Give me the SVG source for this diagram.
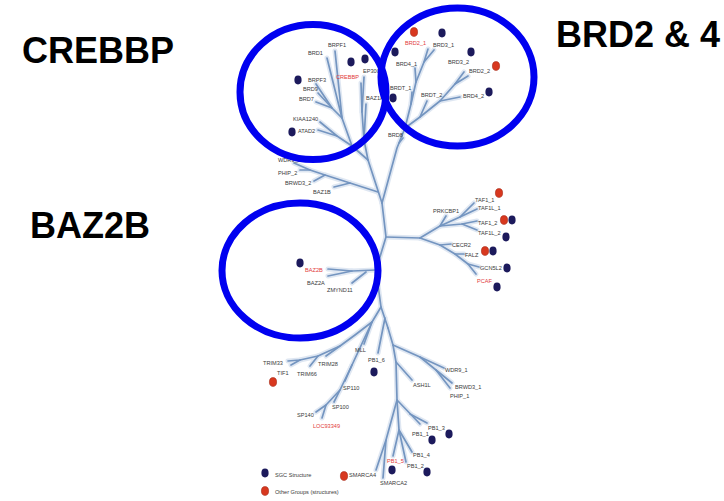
<svg xmlns="http://www.w3.org/2000/svg" xmlns:xlink="http://www.w3.org/1999/xlink" width="724" height="501" viewBox="0 0 724 501">
<style>
.halo{fill:none;stroke:#b9cbe4;stroke-width:5;stroke-linecap:round;stroke-linejoin:round;opacity:.45}
.line{fill:none;stroke:#7495c0;stroke-width:1.7;stroke-linecap:round;stroke-linejoin:round}
.lb{font-family:"Liberation Sans",Arial,sans-serif;font-size:5.6px;fill:#3a3a3a}
.lr{font-family:"Liberation Sans",Arial,sans-serif;font-size:5.6px;fill:#e23a3a}
.sgc{fill:#1c1a5c}
.oth{fill:#d8381f;stroke:#a52a18;stroke-width:.6}
.ring{fill:none;stroke:#0000f0;stroke-width:7}
.tt{font-family:"Liberation Sans",Arial,sans-serif;font-size:36px;font-weight:bold;fill:#000}
</style>
<defs>
<g id="tree">
<path d="M382,203 L386,237 L376,270 L381,307 L388,328"/>
<path d="M382,203 L368,160"/>
<path d="M382,203 L397,148 L405,128"/>
<path d="M368,160 L352,146"/>
<path d="M368,160 L364,140 L366,104"/>
<path d="M364,140 L362,112 L361,83"/>
<path d="M362,112 L364,77"/>
<path d="M352,146 L337,136 L320,122"/>
<path d="M337,136 L318,130"/>
<path d="M352,146 L342,118 L327,58"/>
<path d="M342,118 L335,51"/>
<path d="M342,118 L332,108 L316,84"/>
<path d="M332,108 L318,93"/>
<path d="M332,108 L316,102"/>
<path d="M378,192 L350,183 L334,187"/>
<path d="M350,183 L325,175 L314,181"/>
<path d="M325,175 L310,170 L300,170"/>
<path d="M310,170 L294,163"/>
<path d="M399,143 L403,138"/>
<path d="M405,128 L411,104 L412,92"/>
<path d="M411,104 L416,82 L415,68"/>
<path d="M416,82 L424,62 L428,49"/>
<path d="M424,62 L434,50"/>
<path d="M405,128 L420,117 L427,101"/>
<path d="M420,117 L440,101 L460,97"/>
<path d="M440,101 L455,84 L464,72"/>
<path d="M455,84 L468,76"/>
<path d="M386,237 L420,238"/>
<path d="M420,238 L440,226 L446,216"/>
<path d="M440,226 L460,217 L474,203"/>
<path d="M460,217 L477,209"/>
<path d="M440,226 L462,224 L477,221"/>
<path d="M462,224 L477,230"/>
<path d="M420,238 L440,245 L451,244"/>
<path d="M440,245 L455,254 L464,254"/>
<path d="M455,254 L468,264 L479,267"/>
<path d="M468,264 L476,274"/>
<path d="M376,270 L352,271 L328,269"/>
<path d="M352,271 L328,276"/>
<path d="M366,272 L352,283"/>
<path d="M381,307 L372,322 L364,344"/>
<path d="M372,322 L355,335 L340,346 L326,356"/>
<path d="M340,346 L318,356 L310,366"/>
<path d="M318,356 L300,360 L288,361"/>
<path d="M300,360 L291,365"/>
<path d="M372,322 L352,365 L345,381"/>
<path d="M352,365 L340,390 L334,402"/>
<path d="M340,390 L326,405 L316,412"/>
<path d="M326,405 L322,418"/>
<path d="M385,318 L378,353"/>
<path d="M388,328 L393,345"/>
<path d="M393,345 L420,357 L444,368"/>
<path d="M420,357 L452,383"/>
<path d="M436,370 L450,388"/>
<path d="M393,345 L396,362 L412,380"/>
<path d="M396,362 L397,400 L420,424"/>
<path d="M410,414 L427,423"/>
<path d="M397,400 L399,430 L412,452"/>
<path d="M399,430 L406,462"/>
<path d="M399,430 L393,456"/>
<path d="M397,400 L386,440 L376,470"/>
<path d="M386,440 L383,478"/>
</g>
</defs>
<g id="connectors">
<use xlink:href="#tree" class="halo"/>
<use xlink:href="#tree" class="line"/>
</g>
<g id="nodes">
<g id="n-brpf1"><text class="lb" x="328" y="47">BRPF1</text></g>
<g id="n-brd1"><text class="lb" x="308" y="55">BRD1</text></g>
<g id="n-crebbp"><ellipse class="sgc" cx="351" cy="62" rx="3.6" ry="4.4"/><text class="lr" x="336" y="79">CREBBP</text></g>
<g id="n-ep300"><ellipse class="sgc" cx="365" cy="59" rx="3.6" ry="4.4"/><text class="lb" x="363" y="73">EP300</text></g>
<g id="n-brpf3"><ellipse class="sgc" cx="298" cy="80" rx="3.6" ry="4.4"/><text class="lb" x="308" y="82">BRPF3</text></g>
<g id="n-brd9"><text class="lb" x="303" y="91">BRD9</text></g>
<g id="n-brd7"><text class="lb" x="299" y="101">BRD7</text></g>
<g id="n-baz1a"><text class="lb" x="366" y="100">BAZ1A</text></g>
<g id="n-kiaa1240"><text class="lb" x="293" y="121">KIAA1240</text></g>
<g id="n-atad2"><ellipse class="sgc" cx="292" cy="132" rx="3.6" ry="4.4"/><text class="lb" x="298" y="133">ATAD2</text></g>
<g id="n-brd8"><text class="lb" x="388" y="137">BRD8</text></g>
<g id="n-brd2-1"><ellipse class="oth" cx="414" cy="32" rx="3.6" ry="4.4"/><text class="lr" x="405" y="45">BRD2_1</text></g>
<g id="n-brd3-1"><ellipse class="sgc" cx="442" cy="33" rx="3.6" ry="4.4"/><text class="lb" x="433" y="47">BRD3_1</text></g>
<g id="n-brd4-1"><ellipse class="sgc" cx="395" cy="52" rx="3.6" ry="4.4"/><text class="lb" x="396" y="66">BRD4_1</text></g>
<g id="n-brd3-2"><ellipse class="sgc" cx="471" cy="52" rx="3.6" ry="4.4"/><text class="lb" x="448" y="64">BRD3_2</text></g>
<g id="n-brd2-2"><ellipse class="oth" cx="496" cy="66" rx="3.6" ry="4.4"/><text class="lb" x="469" y="73">BRD2_2</text></g>
<g id="n-brdt-1"><ellipse class="sgc" cx="393" cy="98" rx="3.6" ry="4.4"/><text class="lb" x="390" y="90">BRDT_1</text></g>
<g id="n-brdt-2"><text class="lb" x="421" y="97">BRDT_2</text></g>
<g id="n-brd4-2"><ellipse class="sgc" cx="489" cy="92" rx="3.6" ry="4.4"/><text class="lb" x="463" y="98">BRD4_2</text></g>
<g id="n-wdr9-2"><text class="lb" x="278" y="162">WDR9_2</text></g>
<g id="n-phip-2"><text class="lb" x="278" y="175">PHIP_2</text></g>
<g id="n-brwd3-2"><text class="lb" x="285" y="185">BRWD3_2</text></g>
<g id="n-baz1b"><text class="lb" x="313" y="194">BAZ1B</text></g>
<g id="n-prkcbp1"><text class="lb" x="433" y="213">PRKCBP1</text></g>
<g id="n-taf1-1"><ellipse class="oth" cx="499" cy="193" rx="3.6" ry="4.4"/><text class="lb" x="475" y="202">TAF1_1</text></g>
<g id="n-taf1l-1"><text class="lb" x="478" y="210">TAF1L_1</text></g>
<g id="n-taf1-2"><ellipse class="oth" cx="504" cy="220" rx="3.6" ry="4.4"/><ellipse class="sgc" cx="512" cy="220" rx="3.6" ry="4.4"/><text class="lb" x="478" y="225">TAF1_2</text></g>
<g id="n-taf1l-2"><ellipse class="sgc" cx="506" cy="237" rx="3.6" ry="4.4"/><text class="lb" x="478" y="235">TAF1L_2</text></g>
<g id="n-cecr2"><text class="lb" x="452" y="247">CECR2</text></g>
<g id="n-falz"><ellipse class="oth" cx="485" cy="251" rx="3.6" ry="4.4"/><ellipse class="sgc" cx="493" cy="251" rx="3.6" ry="4.4"/><text class="lb" x="465" y="257">FALZ</text></g>
<g id="n-gcn5l2"><ellipse class="sgc" cx="507" cy="268" rx="3.6" ry="4.4"/><text class="lb" x="480" y="270">GCN5L2</text></g>
<g id="n-pcaf"><ellipse class="sgc" cx="497" cy="287" rx="3.6" ry="4.4"/><text class="lr" x="477" y="283">PCAF</text></g>
<g id="n-baz2b"><ellipse class="sgc" cx="300" cy="263" rx="3.6" ry="4.4"/><text class="lr" x="305" y="272">BAZ2B</text></g>
<g id="n-baz2a"><text class="lb" x="307" y="285">BAZ2A</text></g>
<g id="n-zmynd11"><text class="lb" x="327" y="292">ZMYND11</text></g>
<g id="n-mll"><text class="lb" x="355" y="352">MLL</text></g>
<g id="n-pb1-6"><ellipse class="sgc" cx="374" cy="372" rx="3.6" ry="4.4"/><text class="lb" x="368" y="362">PB1_6</text></g>
<g id="n-trim33"><text class="lb" x="263" y="365">TRIM33</text></g>
<g id="n-tif1"><ellipse class="oth" cx="273" cy="382" rx="3.6" ry="4.4"/><text class="lb" x="277" y="375">TIF1</text></g>
<g id="n-trim66"><text class="lb" x="297" y="376">TRIM66</text></g>
<g id="n-trim28"><text class="lb" x="318" y="366">TRIM28</text></g>
<g id="n-sp110"><text class="lb" x="343" y="390">SP110</text></g>
<g id="n-sp100"><text class="lb" x="332" y="409">SP100</text></g>
<g id="n-sp140"><text class="lb" x="297" y="417">SP140</text></g>
<g id="n-loc93349"><text class="lr" x="313" y="428">LOC93349</text></g>
<g id="n-wdr9-1"><text class="lb" x="445" y="372">WDR9_1</text></g>
<g id="n-brwd3-1"><text class="lb" x="455" y="389">BRWD3_1</text></g>
<g id="n-phip-1"><text class="lb" x="450" y="398">PHIP_1</text></g>
<g id="n-ash1l"><text class="lb" x="413" y="387">ASH1L</text></g>
<g id="n-pb1-3"><ellipse class="sgc" cx="449" cy="434" rx="3.6" ry="4.4"/><text class="lb" x="428" y="430">PB1_3</text></g>
<g id="n-pb1-1"><ellipse class="sgc" cx="432" cy="440" rx="3.6" ry="4.4"/><text class="lb" x="412" y="436">PB1_1</text></g>
<g id="n-pb1-4"><text class="lb" x="413" y="457">PB1_4</text></g>
<g id="n-pb1-5"><ellipse class="sgc" cx="392" cy="470" rx="3.6" ry="4.4"/><text class="lr" x="387" y="463">PB1_5</text></g>
<g id="n-pb1-2"><ellipse class="sgc" cx="427" cy="472" rx="3.6" ry="4.4"/><text class="lb" x="407" y="468">PB1_2</text></g>
<g id="n-smarca4"><ellipse class="oth" cx="344" cy="476" rx="3.6" ry="4.4"/><text class="lb" x="349" y="477">SMARCA4</text></g>
<g id="n-smarca2"><text class="lb" x="380" y="485">SMARCA2</text></g>
</g>
<g id="legend">
<ellipse class="sgc" cx="265" cy="473" rx="3.6" ry="4.4"/><text class="lb" x="275" y="477">SGC Structure</text>
<ellipse class="oth" cx="265" cy="491" rx="3.6" ry="4.4"/><text class="lb" x="275" y="494">Other Groups (structures)</text>
</g>
<g id="highlights">
<g id="ring-crebbp"><ellipse class="ring" cx="313" cy="92" rx="73" ry="67.5"/><text class="tt" x="22" y="63">CREBBP</text></g>
<g id="ring-brd"><ellipse class="ring" cx="457.5" cy="77" rx="76.5" ry="69"/><text class="tt" x="556" y="47">BRD2 &amp; 4</text></g>
<g id="ring-baz2b"><ellipse class="ring" cx="300" cy="270.5" rx="78" ry="67.5"/><text class="tt" x="30" y="238">BAZ2B</text></g>
</g>
</svg>
